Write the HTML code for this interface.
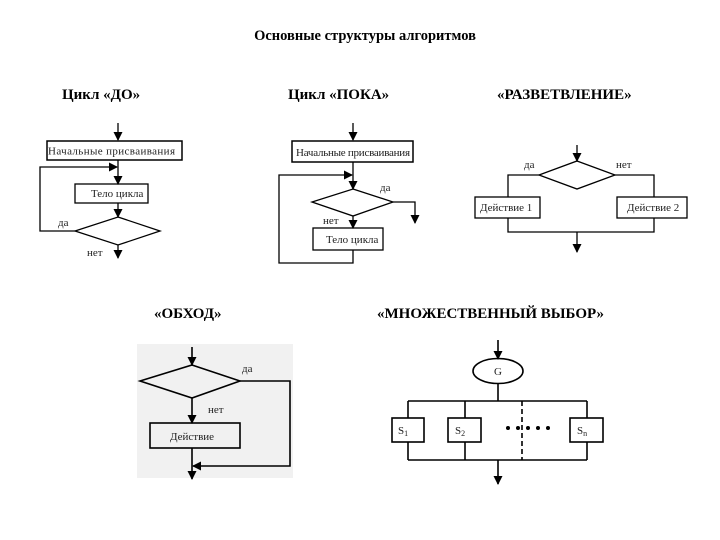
<!DOCTYPE html>
<html><head><meta charset="utf-8"><style>
html,body{margin:0;padding:0;background:#fff;width:720px;height:540px;overflow:hidden}
svg{display:block}
.t{font-family:"Liberation Serif",serif;font-weight:bold;fill:#000}
.s{font-family:"Liberation Serif",serif;font-size:11px;fill:#222}
</style></head><body>
<svg width="720" height="540" viewBox="0 0 720 540" xmlns="http://www.w3.org/2000/svg">
<defs>
<marker id="a" markerWidth="9" markerHeight="9" refX="8" refY="4.5" orient="auto" markerUnits="userSpaceOnUse"><path d="M0,0 L9,4.5 L0,9 z" fill="#000"/></marker>
</defs>
<text class="t" x="365" y="40" font-size="14.5" text-anchor="middle">Основные структуры алгоритмов</text>
<text class="t" x="62" y="99" font-size="15">Цикл «ДО»</text>
<text class="t" x="288" y="99" font-size="15">Цикл «ПОКА»</text>
<text class="t" x="497" y="99" font-size="15">«РАЗВЕТВЛЕНИЕ»</text>
<text class="t" x="154" y="318" font-size="15">«ОБХОД»</text>
<text class="t" x="377" y="318" font-size="15">«МНОЖЕСТВЕННЫЙ ВЫБОР»</text>

<g stroke="#000" stroke-width="1.3" fill="none">
<!-- Cycle DO -->
<line x1="118" y1="123" x2="118" y2="140" marker-end="url(#a)"/>
<rect x="47" y="141" width="135" height="19" fill="#fff" stroke-width="1.5"/>
<line x1="118" y1="160" x2="118" y2="184" marker-end="url(#a)"/>
<rect x="75" y="184" width="73" height="19"/>
<line x1="118" y1="203" x2="118" y2="217" marker-end="url(#a)"/>
<polygon points="118,217 160,231 118,245 75,231"/>
<polyline points="75,231 40,231 40,167 117,167" marker-end="url(#a)"/>
<line x1="118" y1="245" x2="118" y2="258" marker-end="url(#a)"/>
<!-- Cycle POKA -->
<line x1="353" y1="123" x2="353" y2="140" marker-end="url(#a)"/>
<rect x="292" y="141" width="121" height="21" stroke-width="1.5"/>
<line x1="353" y1="162" x2="353" y2="189" marker-end="url(#a)"/>
<polygon points="353,189 393,202 353,216 312,202"/>
<polyline points="393,202 415,202 415,223" marker-end="url(#a)"/>
<line x1="353" y1="216" x2="353" y2="228" marker-end="url(#a)"/>
<rect x="313" y="228" width="70" height="22"/>
<polyline points="353,250 353,263 279,263 279,175 352,175" marker-end="url(#a)"/>
<!-- Razvetvlenie -->
<line x1="577" y1="145" x2="577" y2="161" marker-end="url(#a)"/>
<polygon points="577,161 615,175 577,189 539,175"/>
<polyline points="539,175 508,175 508,197"/>
<polyline points="615,175 654,175 654,197"/>
<rect x="475" y="197" width="65" height="21"/>
<rect x="617" y="197" width="70" height="21"/>
<polyline points="508,218 508,232 654,232 654,218"/>
<line x1="577" y1="232" x2="577" y2="252" marker-end="url(#a)"/>
</g>
<text class="s" x="48" y="154.5" font-size="10.5" textLength="127">Начальные присваивания</text>
<text class="s" x="91" y="197">Тело цикла</text>
<text class="s" x="58" y="226">да</text>
<text class="s" x="87" y="256">нет</text>
<text class="s" x="296" y="156" font-size="10.5" textLength="114">Начальные присваивания</text>
<text class="s" x="380" y="191">да</text>
<text class="s" x="323" y="224">нет</text>
<text class="s" x="326" y="243">Тело цикла</text>
<text class="s" x="524" y="168">да</text>
<text class="s" x="616" y="168">нет</text>
<text class="s" x="480" y="211">Действие 1</text>
<text class="s" x="627" y="211">Действие 2</text>

<!-- Obhod -->
<rect x="137" y="344" width="156" height="134" fill="#f1f1f1"/>
<g stroke="#000" stroke-width="1.6" fill="none">
<line x1="192" y1="347" x2="192" y2="365" marker-end="url(#a)"/>
<polygon points="192,365 240,381 192,398 140,381"/>
<polyline points="240,381 290,381 290,466 193,466" marker-end="url(#a)"/>
<line x1="192" y1="398" x2="192" y2="423" marker-end="url(#a)"/>
<rect x="150" y="423" width="90" height="25"/>
<line x1="192" y1="448" x2="192" y2="479" marker-end="url(#a)"/>
<!-- Multiple choice -->
<line x1="498" y1="340" x2="498" y2="359" marker-end="url(#a)"/>
<ellipse cx="498" cy="371" rx="25" ry="12.5"/>
<line x1="498" y1="384" x2="498" y2="401"/>
<line x1="408" y1="401" x2="587" y2="401"/>
<line x1="408" y1="460" x2="587" y2="460"/>
<line x1="408" y1="401" x2="408" y2="460"/>
<line x1="465" y1="401" x2="465" y2="460"/>
<line x1="587" y1="401" x2="587" y2="460"/>
<line x1="522" y1="401" x2="522" y2="460" stroke-dasharray="5,3"/>
<rect x="392" y="418" width="32" height="24" fill="#fff"/>
<rect x="448" y="418" width="33" height="24" fill="#fff"/>
<rect x="570" y="418" width="33" height="24" fill="#fff"/>
<line x1="498" y1="460" x2="498" y2="484" marker-end="url(#a)"/>
</g>
<g fill="#000"><circle cx="508" cy="428" r="2"/><circle cx="518" cy="428" r="2"/><circle cx="528" cy="428" r="2"/><circle cx="538" cy="428" r="2"/><circle cx="548" cy="428" r="2"/></g>
<text class="s" x="242" y="372">да</text>
<text class="s" x="208" y="413">нет</text>
<text class="s" x="170" y="440" font-size="12">Действие</text>
<text class="s" x="498" y="375" font-size="12" text-anchor="middle">G</text>
<text class="s" x="398" y="434" font-size="12">S<tspan font-size="8" dy="2">1</tspan></text>
<text class="s" x="455" y="434" font-size="12">S<tspan font-size="8" dy="2">2</tspan></text>
<text class="s" x="577" y="434" font-size="12">S<tspan font-size="8" dy="2">n</tspan></text>
</svg>
</body></html>
